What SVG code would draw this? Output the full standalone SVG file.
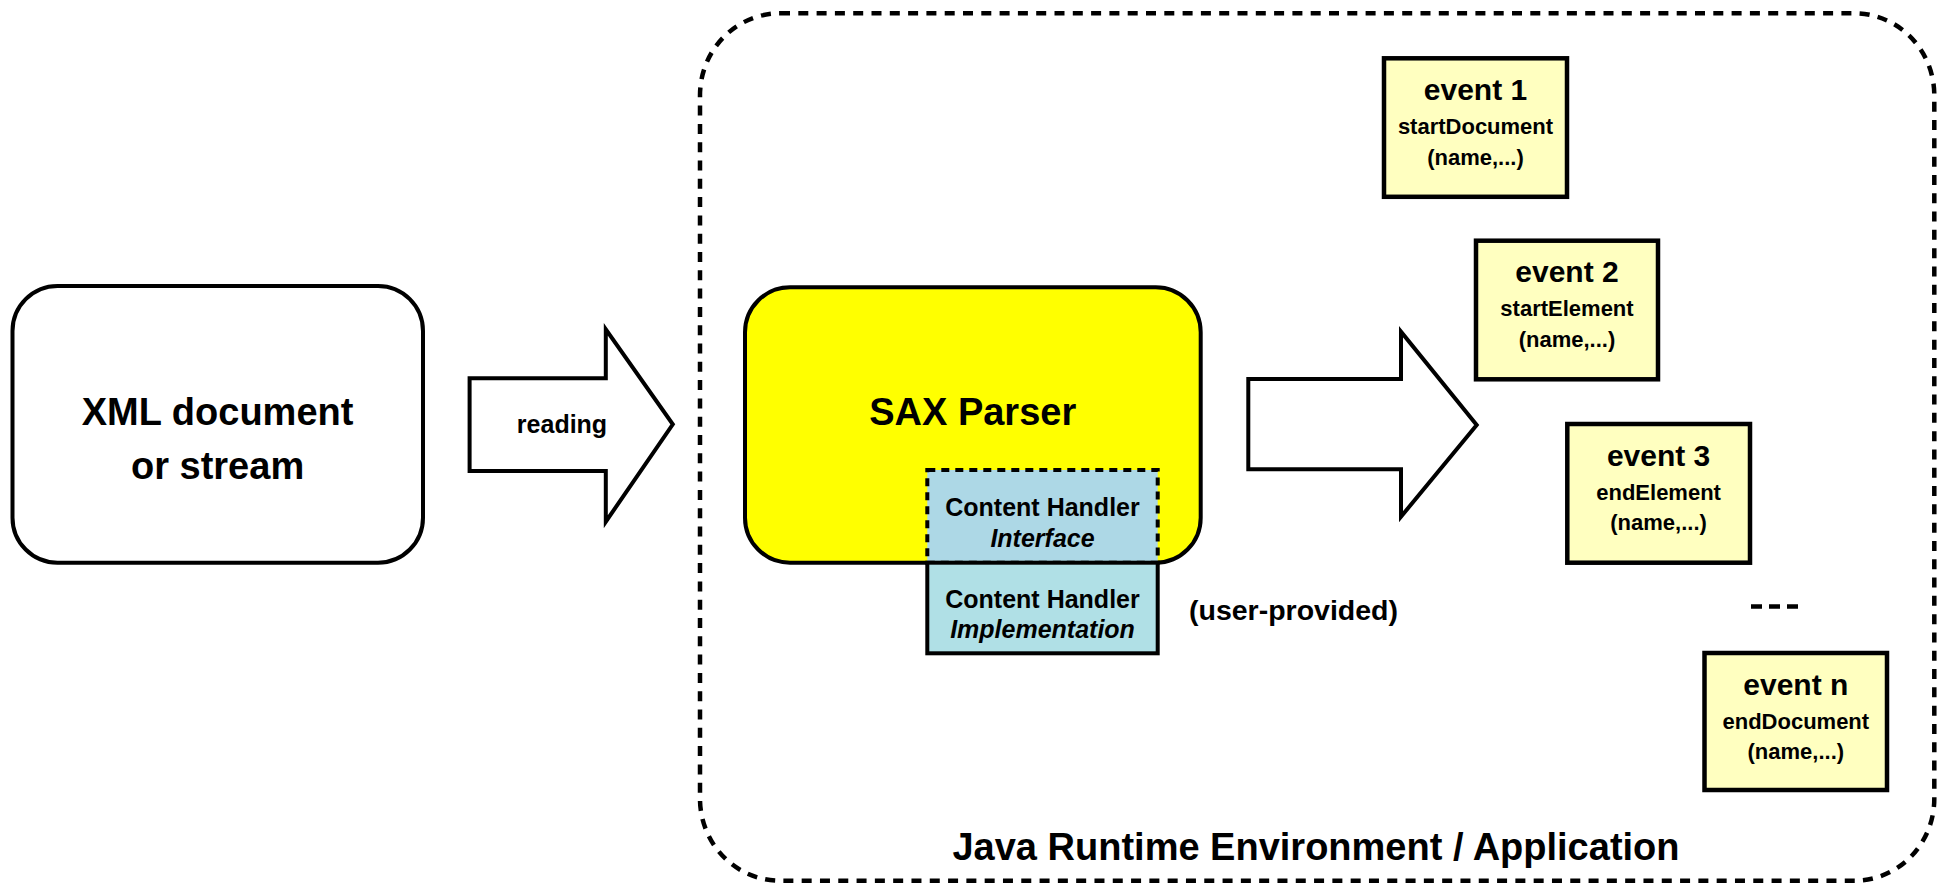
<svg xmlns="http://www.w3.org/2000/svg" width="1943" height="883" viewBox="0 0 1943 883">
<style>
text{font-family:"Liberation Sans",Arial,sans-serif;font-weight:bold;fill:#000;text-anchor:middle}
.ev{fill:#FFFFC0;stroke:#000;stroke-width:4.5}
.t1{font-size:30px}
.t2{font-size:22px}
.ch{font-size:25px}
.it{font-style:italic}
</style>
<g id="container">
<rect x="700" y="13.3" width="1234.3" height="867.4" rx="80" ry="82" fill="none" stroke="#000" stroke-width="4.5" stroke-dasharray="10 8.3"/>
<text x="1316" y="860" style="font-size:38px">Java Runtime Environment / Application</text>
</g>
<g id="xml">
<rect x="12.5" y="286" width="410.5" height="276.7" rx="45" fill="#fff" stroke="#000" stroke-width="4"/>
<text x="217.6" y="425" style="font-size:38px">XML document</text>
<text x="217.6" y="479" style="font-size:38px">or stream</text>
</g>
<g id="connectors">
<g id="reading">
<path d="M469.6,378.3 H605.8 V329.3 L672.8,424.3 L605.8,521.7 V471 H469.6 Z" fill="#fff" stroke="#000" stroke-width="4"/>
<text x="562" y="433" style="font-size:25px">reading</text>
</g>
<g id="events-arrow">
<path d="M1248.3,379 H1401 V331.7 L1476.7,425 L1401,516.7 V469.3 H1248.3 Z" fill="#fff" stroke="#000" stroke-width="4"/>
</g>
</g>
<g id="sax">
<rect x="745" y="287.3" width="455.7" height="275.4" rx="45" fill="#FFFF00" stroke="#000" stroke-width="4"/>
<text x="972.7" y="425" style="font-size:38px">SAX Parser</text>
</g>
<g id="interface">
<rect x="927.3" y="470" width="230.4" height="92.7" fill="#ADD8E6" stroke="#000" stroke-width="4" stroke-dasharray="8 6"/>
<text class="ch" x="1042.5" y="516">Content Handler</text>
<text class="ch it" x="1042.5" y="547.3">Interface</text>
</g>
<g id="implementation">
<rect x="927.3" y="562.7" width="230.4" height="90.6" fill="#B0E0E6" stroke="#000" stroke-width="4"/>
<text class="ch" x="1042.5" y="608.3">Content Handler</text>
<text class="ch it" x="1042.5" y="638.3">Implementation</text>
</g>
<g id="user-provided">
<text x="1293.5" y="620" style="font-size:28.5px">(user-provided)</text>
</g>
<g id="event1">
<rect class="ev" x="1384" y="58.3" width="183" height="138.5"/>
<text class="t1" x="1475.5" y="100">event 1</text>
<text class="t2" x="1475.5" y="134">startDocument</text>
<text class="t2" x="1475.5" y="164.5">(name,...)</text>
</g>
<g id="event2">
<rect class="ev" x="1476" y="240.7" width="182" height="138.6"/>
<text class="t1" x="1567" y="282.4">event 2</text>
<text class="t2" x="1567" y="316.4">startElement</text>
<text class="t2" x="1567" y="346.9">(name,...)</text>
</g>
<g id="event3">
<rect class="ev" x="1567.3" y="424" width="182.7" height="138.7"/>
<text class="t1" x="1658.6" y="465.7">event 3</text>
<text class="t2" x="1658.6" y="499.7">endElement</text>
<text class="t2" x="1658.6" y="530.2">(name,...)</text>
</g>
<g id="ellipsis">
<path d="M1751,606.5 H1762 M1769,606.5 H1780 M1787,606.5 H1798" stroke="#000" stroke-width="4.5" fill="none"/>
</g>
<g id="eventn">
<rect class="ev" x="1704.5" y="653" width="182.5" height="137"/>
<text class="t1" x="1795.8" y="694.7">event n</text>
<text class="t2" x="1795.8" y="728.7">endDocument</text>
<text class="t2" x="1795.8" y="759.2">(name,...)</text>
</g>
</svg>
